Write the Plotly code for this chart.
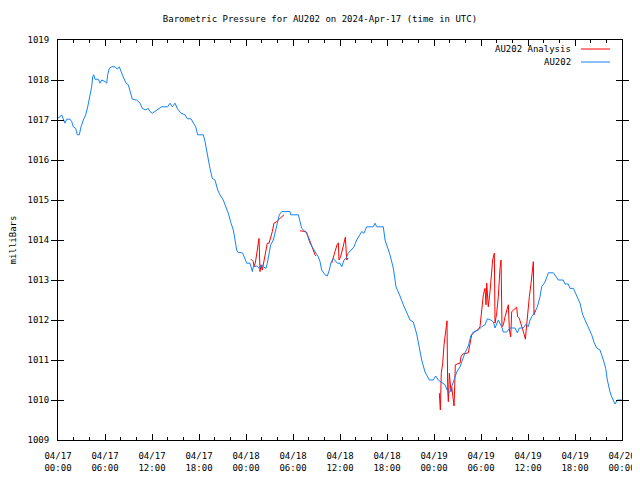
import pandas as pd
import plotly.graph_objects as go

# ---------------- data ----------------
start = "2024-04-17 00:00"

# AU202 observed (hours since 04/17 00:00 UTC, mbar)
blue_h = [0.0, 0.26, 0.47, 0.68, 0.89, 1.11, 1.53, 1.75, 1.95, 2.26, 2.46, 2.72, 2.94, 3.23, 3.54,
          3.79, 4.09, 4.3, 4.43, 4.56, 4.72, 5.14, 5.36, 5.58, 6.0, 6.22, 6.34, 6.55, 6.86, 7.28,
          7.57, 7.83, 8.13, 8.43, 8.68, 8.97, 9.19, 9.49, 10.05, 10.47, 10.76, 11.2, 11.53, 11.74,
          12.04, 12.38, 12.8, 13.24, 14.0, 14.3, 14.59, 14.94, 15.28, 15.7, 16.21, 16.51, 16.98,
          17.27, 17.58, 17.83, 18.55, 18.77, 18.98, 19.19, 19.4, 19.7, 20.04, 20.39, 20.68, 21.1,
          21.41, 21.74, 22.09, 22.38, 22.6, 22.81, 23.02, 23.23, 23.58, 23.87, 24.09, 24.51, 24.81,
          24.93, 25.37, 25.7, 26.0, 26.21, 26.55, 26.72, 26.98, 27.15, 27.49, 27.7, 28.0, 28.25,
          28.56, 29.62, 29.71, 30.68, 30.89, 31.11, 31.75, 32.17, 32.68, 33.23, 33.45, 33.66, 34.09,
          34.38, 34.64, 34.82, 35.15, 35.36, 35.66, 36.0, 36.22, 36.51, 36.77, 37.06, 37.49, 37.79,
          38.13, 38.47, 38.77, 39.06, 39.41, 40.25, 40.47, 40.69, 41.33, 41.53, 41.75, 42.38, 42.8,
          43.15, 43.66, 44.08, 44.94, 45.36, 45.79, 46.0, 46.43, 46.85, 47.4, 47.91, 48.22, 48.55,
          48.98, 49.41, 49.83, 50.04, 50.26, 50.68, 50.9, 51.32, 51.66, 51.96, 52.38, 52.69, 53.02,
          53.66, 54.09, 54.51, 54.81, 55.24, 55.58, 55.79, 56.21, 56.64, 56.85, 57.28, 57.7, 58.34,
          58.64, 58.89, 59.4, 59.75, 60.04, 60.26, 60.47, 60.9, 61.19, 61.53, 61.75, 62.17, 62.6,
          63.24, 63.87, 64.5, 64.72, 65.14, 65.36, 65.79, 66.0, 66.42, 66.64, 66.98, 67.28, 67.7,
          68.13, 68.47, 68.77, 69.19, 69.41, 69.62, 69.92, 70.13, 70.47, 70.68, 71.11, 71.4, 72.0]
blue_p = [1017.05, 1017.08, 1017.13, 1017.02, 1016.92, 1017.02, 1017.02, 1016.96, 1016.83, 1016.79,
          1016.63, 1016.63, 1016.83, 1017.0, 1017.13, 1017.33, 1017.58, 1017.83, 1018.08, 1018.13,
          1018.02, 1018.02, 1017.92, 1018.0, 1017.96, 1017.92, 1018.13, 1018.29, 1018.33, 1018.33,
          1018.27, 1018.33, 1018.17, 1018.04, 1017.92, 1017.88, 1017.75, 1017.52, 1017.5, 1017.42,
          1017.29, 1017.25, 1017.29, 1017.21, 1017.17, 1017.21, 1017.27, 1017.33, 1017.33, 1017.42,
          1017.33, 1017.42, 1017.27, 1017.17, 1017.13, 1017.03, 1017.03, 1016.92, 1016.83, 1016.63,
          1016.63, 1016.46, 1016.2, 1016.0, 1015.79, 1015.54, 1015.5, 1015.25, 1015.13, 1015.0,
          1014.83, 1014.67, 1014.42, 1014.25, 1014.0, 1013.75, 1013.68, 1013.69, 1013.67, 1013.54,
          1013.42, 1013.42, 1013.21, 1013.33, 1013.35, 1013.29, 1013.38, 1013.33, 1013.29, 1013.42,
          1013.67, 1013.88, 1014.0, 1014.21, 1014.42, 1014.63, 1014.71, 1014.71, 1014.63, 1014.63,
          1014.42, 1014.29, 1014.17, 1013.92, 1013.75, 1013.58, 1013.46, 1013.25, 1013.13, 1013.1,
          1013.25, 1013.42, 1013.54, 1013.5, 1013.42, 1013.42, 1013.33, 1013.5, 1013.54, 1013.67,
          1013.75, 1013.83, 1014.0, 1014.13, 1014.21, 1014.17, 1014.33, 1014.33, 1014.42, 1014.33,
          1014.32, 1014.33, 1014.0, 1013.63, 1013.3, 1012.83, 1012.6, 1012.38, 1012.0, 1011.95,
          1011.65, 1011.43, 1011.0, 1010.7, 1010.5, 1010.5, 1010.6, 1010.5, 1010.45, 1010.38,
          1010.18, 1010.2, 1010.33, 1010.58, 1010.7, 1010.83, 1011.05, 1011.18, 1011.35, 1011.6,
          1011.7, 1011.75, 1011.83, 1011.88, 1012.03, 1012.0, 1011.95, 1011.8, 1012.0, 1011.83,
          1011.7, 1011.7, 1011.8, 1011.8, 1011.68, 1011.8, 1011.8, 1011.9, 1011.83, 1012.0, 1012.08,
          1012.2, 1012.33, 1012.58, 1012.83, 1012.95, 1013.18, 1013.18, 1013.0, 1013.0, 1012.9,
          1012.9, 1012.79, 1012.79, 1012.7, 1012.54, 1012.42, 1012.13, 1012.0, 1011.79, 1011.63,
          1011.42, 1011.3, 1011.25, 1011.13, 1011.0, 1010.79, 1010.5, 1010.2, 1010.08, 1009.9,
          1010.0, 1010.0]

# AU202 Analysis (None = gap)
red_h = [24.64, 24.93, 25.02, 25.21, 25.44, 25.66, 25.79, 25.92, 26.08, 26.3, 26.51, 26.72, 26.94,
         27.15, 27.36, 27.57, 27.92, 28.34, 28.85, None,
         30.89, 31.32, 31.66, 31.96, 32.17, 32.38, 32.6, 32.81, 32.94, None,
         34.94, 35.15, 35.36, 35.62, 35.79, 35.87, 36.07, 36.3, 36.51, 36.68, 36.86, 37.02, None,
         48.68, 48.81, 48.93, 49.11, 49.28, 49.53, 49.66, 49.75, 49.83, 49.96, 50.04, 50.17, 50.26,
         50.39, 50.56, 50.64, 50.72, 50.98, 51.32, 51.45, 51.66, 52.38, 52.69, 52.81, 53.23, 53.66,
         53.87, 54.09, 54.3, 54.51, 54.64, 54.73, 54.93, 55.15, 55.36, 55.49, 55.7, 55.79, 56.0,
         56.21, 56.43, 56.56, 56.68, 56.85, 57.07, 57.28, 57.49, 57.62, 57.79, 57.92, 58.13, 58.55,
         58.68, 58.89, 59.07, 59.32, 59.53, 59.66, 59.83, 59.96, 60.17, 60.39, 60.55, 60.68, 60.77,
         60.94]
red_p = [1013.52, 1013.46, 1013.33, 1013.45, 1013.75, 1014.04, 1013.21, 1013.38, 1013.25, 1013.5,
         1013.71, 1013.92, 1013.92, 1014.04, 1014.21, 1014.42, 1014.46, 1014.54, 1014.63, None,
         1014.23, 1014.21, 1014.21, 1014.08, 1013.96, 1013.88, 1013.75, 1013.63, 1013.6, None,
         1013.42, 1013.54, 1013.71, 1013.88, 1013.93, 1013.5, 1013.58, 1013.75, 1013.96, 1014.07,
         1013.5, 1013.55, None,
         1010.17, 1009.75, 1010.67, 1010.92, 1011.38, 1011.83, 1011.98, 1010.25, 1009.96, 1010.67,
         1010.43, 1010.21, 1010.33, 1010.08, 1009.85, 1010.33, 1010.88, 1010.9, 1010.92, 1011.08,
         1011.15, 1011.18, 1011.58, 1011.63, 1011.71, 1011.77, 1011.83, 1012.25, 1012.63, 1012.79,
         1012.38, 1012.92, 1012.33, 1012.71, 1013.25, 1013.5, 1013.67, 1011.92, 1012.17, 1012.58,
         1013.29, 1013.5, 1011.83, 1011.88, 1012.08, 1012.25, 1012.38, 1011.75, 1011.58, 1012.21,
         1012.25, 1012.32, 1012.08, 1012.04, 1011.92, 1011.79, 1011.63, 1011.52, 1011.92, 1012.21,
         1012.58, 1012.92, 1013.33, 1013.46, 1012.13, 1012.25]

tick_hours = [0, 6, 12, 18, 24, 30, 36, 42, 48, 54, 60, 66, 72]
tick_dates = ["04/17", "04/17", "04/17", "04/17", "04/18", "04/18", "04/18", "04/18",
              "04/19", "04/19", "04/19", "04/19", "04/20"]
tick_times = ["00:00", "06:00", "12:00", "18:00", "00:00", "06:00", "12:00", "18:00",
              "00:00", "06:00", "12:00", "18:00", "00:00"]
y_ticks = [1009, 1010, 1011, 1012, 1013, 1014, 1015, 1016, 1017, 1018, 1019]

series_names = ["AU202 Analysis", "AU202"]
series_colors = ["#ff0000", "#1484f5"]

# ---------------- build ----------------
t0 = pd.Timestamp(start)
def to_time(hours):
    return [None if h is None else t0 + pd.Timedelta(hours=h) for h in hours]

FONT = "DejaVu Sans Mono"
TF = dict(family=FONT, size=9, color="black")
x_range = [t0, t0 + pd.Timedelta(hours=72)]

fig = go.Figure()
fig.add_trace(go.Scatter(x=to_time(red_h), y=red_p, mode="lines", name=series_names[0],
                         line=dict(color=series_colors[0], width=1), connectgaps=False,
                         showlegend=False))
fig.add_trace(go.Scatter(x=to_time(blue_h), y=blue_p, mode="lines", name=series_names[1],
                         line=dict(color=series_colors[1], width=1), showlegend=False))

axis_common = dict(showgrid=False, zeroline=False, showline=True, linecolor="black", linewidth=1,
                   mirror="allticks", ticks="inside", tickcolor="black", tickwidth=1,
                   tickfont=TF, automargin=False)

fig.update_layout(
    xaxis=dict(**axis_common, ticklen=6, range=x_range,
               tickmode="array", tickvals=to_time(tick_hours), ticktext=tick_dates,
               ticklabelstandoff=7, ticklabeloverflow="allow",
               minor=dict(tickmode="linear", tick0=t0, dtick=2 * 3600 * 1000,
                          ticks="inside", ticklen=3, tickcolor="black")),
    xaxis2=dict(overlaying="x", anchor="y", side="bottom", range=x_range, showgrid=False,
                zeroline=False, showline=False, ticks="", tickmode="array",
                tickvals=to_time(tick_hours), ticktext=tick_times, tickfont=TF,
                ticklabelstandoff=21, ticklabeloverflow="allow", automargin=False),
    yaxis=dict(**axis_common, ticklen=6, range=[1009, 1019], tickmode="array",
               tickvals=y_ticks, ticktext=[str(v) for v in y_ticks], ticklabelstandoff=6,
               title=dict(text="milliBars", font=TF, standoff=17)),
)
# invisible helper trace so the second (time-of-day) label row is drawn
fig.add_trace(go.Scatter(x=[x_range[0]], y=[None], xaxis="x2", yaxis="y", mode="lines",
                         showlegend=False, hoverinfo="skip"))

# legend drawn gnuplot-style (text right, line sample to the right)
leg_y = [0.9775, 0.945]
for name, color, yy in zip(series_names, series_colors, leg_y):
    fig.add_annotation(x=0.913, y=yy, xref="paper", yref="paper", text=name, showarrow=False,
                       xanchor="right", yanchor="middle", font=TF)
    fig.add_shape(type="line", xref="paper", yref="paper", x0=0.9273, x1=0.9787, y0=yy, y1=yy,
                  line=dict(color=color, width=1))

# the page body adds an 8px margin, so the figure is shifted to line up with the window
W, H = 640, 464
fig.update_layout(
    width=W, height=H,
    margin=dict(l=50, r=W - 50 - 564, t=32, b=H - 32 - 400),
    paper_bgcolor="white", plot_bgcolor="white",
    title=dict(text="Barometric Pressure for AU202 on 2024-Apr-17 (time in UTC)",
               x=(320 - 8) / W, xanchor="center", y=1 - 11 / H, yanchor="middle",
               font=TF),
)

fig.write_html("out.html")
